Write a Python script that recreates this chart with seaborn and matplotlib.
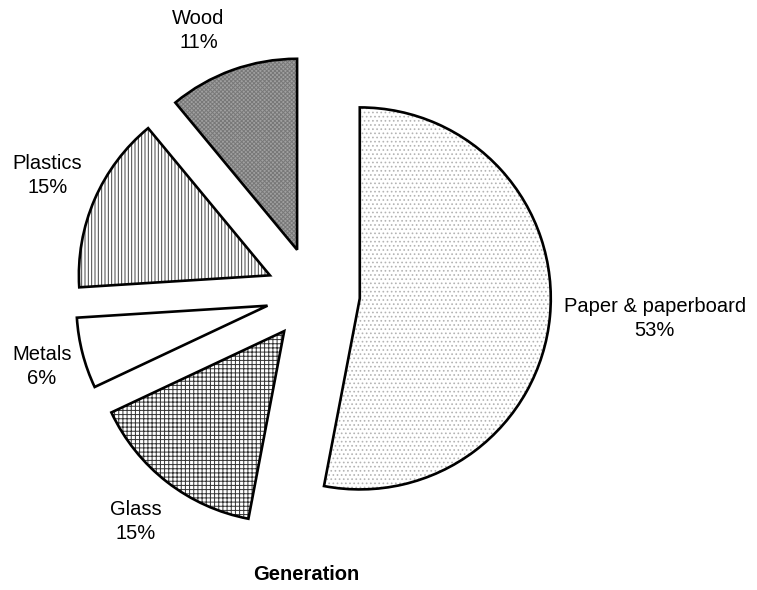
import matplotlib
matplotlib.use("Agg")
import matplotlib.pyplot as plt
import seaborn as sns

# data (clockwise from 12 o'clock)
categories = ["Paper & paperboard", "Glass", "Metals", "Plastics", "Wood"]
shares = [53, 15, 6, 15, 11]

# look of each wedge: fill, hatch and hatch colour
fills = ["white", "white", "white", "white", "#a0a0a0"]
hatches = ["....", "++++", "", "|||||", "xxxxxxxx"]
hatch_colors = ["#b4b4b4", "#333333", "white", "#444444", "#787878"]

# label centres in pie-radius units (pie centre at 0,0)
label_pos = [(1.79, -0.13), (-0.93, -1.19), (-1.42, -0.38), (-1.39, 0.62), (-0.60, 1.38)]

sns.set_theme(style="white")
plt.rcParams["font.family"] = ["Liberation Sans", "DejaVu Sans"]
plt.rcParams["hatch.linewidth"] = 0.7

fig = plt.figure(figsize=(7.57, 5.90), dpi=100)
ax = fig.add_axes([0, 0, 1, 1])

explode = [0.246] * len(shares)

# first pass: hatched fills, no outline
wedges, _ = ax.pie(shares, startangle=90, counterclock=False,
                   explode=explode, radius=1, colors=fills,
                   wedgeprops=dict(linewidth=0))
for w, h, hc in zip(wedges, hatches, hatch_colors):
    w.set_hatch(h)
    w.set_edgecolor(hc)
    w.set_linewidth(0)

# second pass: black outlines on top
ax.pie(shares, startangle=90, counterclock=False, explode=explode,
       radius=1, colors=["none"] * len(shares),
       wedgeprops=dict(linewidth=1.9, edgecolor="black"))

for cat, val, (lx, ly) in zip(categories, shares, label_pos):
    ax.text(lx, ly, f"{cat}\n{val}%", ha="center", va="center",
            fontsize=14.5, linespacing=1.35, color="black")

ax.text(-0.037, -1.471, "Generation", ha="center", va="center",
        fontsize=14.5, fontweight="bold", color="black")

ax.set_xlim(-313 / 191, (757 - 313) / 191)
ax.set_ylim(-(590 - 294) / 191, 294 / 191)
ax.set_aspect("auto")
ax.axis("off")

fig.savefig("out.png", dpi=100)
